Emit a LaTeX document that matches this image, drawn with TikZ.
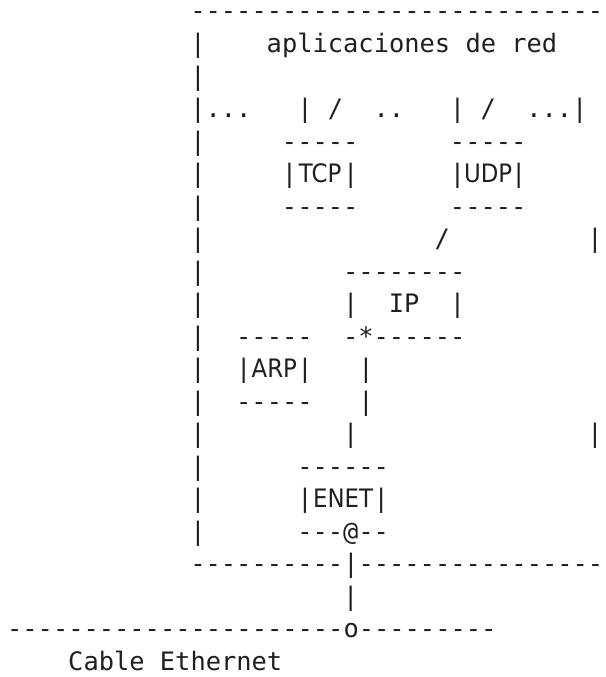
\documentclass[tikz,border=0pt]{standalone}
\usepackage{fontspec}
\usepackage{graphicx}
\setmonofont{DejaVu Sans Mono}
\newfontfamily\boxfont{DejaVu Sans}

\definecolor{ink}{gray}{0.12}

% character grid: 15.27pt per column, 32.5pt per row
\tikzset{
  asc/.style={anchor=base west, inner sep=0pt, outer sep=0pt, text=ink,
    font=\ttfamily\fontsize{25.4}{32.5}\selectfont},
  lbl/.style={anchor=base, inner sep=0pt, outer sep=0pt, text=ink,
    font=\boxfont\fontsize{25.4}{32.5}\selectfont},
}
% \frag{name}{column}{row}{characters}
\newcommand\frag[4]{\node[asc] (#1) at ({190.37pt+(#2)*15.27pt},{-20pt-(#3)*32.5pt}) {#4};}
% \boxlabel{name}{centre column}{row}{text}
\newcommand\boxlabel[4]{\node[lbl] (#1) at ({198pt+(#2)*15.27pt},{-20pt-(#3)*32.5pt}) {\scalebox{0.9}[1]{#4}};}

\begin{document}
\begin{tikzpicture}
\useasboundingbox (0,0) rectangle (605pt,-677pt);

% host frame and application layer
\frag{top}{0}{0}{---------------------------}
\frag{l1}{0}{1}{|} \frag{apps}{5}{1}{aplicaciones de red}
\frag{l2}{0}{2}{|}
\frag{l3}{0}{3}{|...} \frag{tcpbar}{7}{3}{|} \frag{tcpsl}{9}{3}{/}
\frag{dots}{12}{3}{..} \frag{udpbar}{17}{3}{|} \frag{udpsl}{19}{3}{/}
\frag{rdots}{22}{3}{...|}

% TCP and UDP
\frag{l4}{0}{4}{|} \frag{tcptop}{6}{4}{-----} \frag{udptop}{17}{4}{-----}
\frag{l5}{0}{5}{|}
\frag{tcpl}{6}{5}{|} \boxlabel{tcp}{8}{5}{TCP} \frag{tcpr}{10}{5}{|}
\frag{udpl}{17}{5}{|} \boxlabel{udp}{19}{5}{UDP} \frag{udpr}{21}{5}{|}
\frag{l6}{0}{6}{|} \frag{tcpbot}{6}{6}{-----} \frag{udpbot}{17}{6}{-----}
\frag{l7}{0}{7}{|} \frag{ipsl}{16}{7}{/} \frag{r7}{26}{7}{|}

% IP and ARP
\frag{l8}{0}{8}{|} \frag{iptop}{10}{8}{--------}
\frag{l9}{0}{9}{|} \frag{ipl}{10}{9}{|} \frag{ip}{13}{9}{IP} \frag{ipr}{17}{9}{|}
\frag{l10}{0}{10}{|} \frag{arptop}{3}{10}{-----} \frag{ipbot}{10}{10}{-*------}
\frag{l11}{0}{11}{|}
\frag{arpl}{3}{11}{|} \boxlabel{arp}{5}{11}{ARP} \frag{arpr}{7}{11}{|}
\frag{ipv1}{11}{11}{|}
\frag{l12}{0}{12}{|} \frag{arpbot}{3}{12}{-----} \frag{ipv2}{11}{12}{|}
\frag{l13}{0}{13}{|} \frag{enetv}{10}{13}{|} \frag{r13}{26}{13}{|}

% Ethernet driver
\frag{l14}{0}{14}{|} \frag{enettop}{7}{14}{------}
\frag{l15}{0}{15}{|}
\frag{enetl}{7}{15}{|} \boxlabel{enet}{9.5}{15}{ENET} \frag{enetr}{12}{15}{|}
\frag{l16}{0}{16}{|} \frag{enetbot}{7}{16}{---@--}
\frag{bottom}{0}{17}{----------|----------------}

% cable
\frag{drop}{10}{18}{|}
\frag{cable}{-12}{19}{----------------------o---------}
\frag{cablename}{-8}{20}{Cable Ethernet}
\end{tikzpicture}
\end{document}
